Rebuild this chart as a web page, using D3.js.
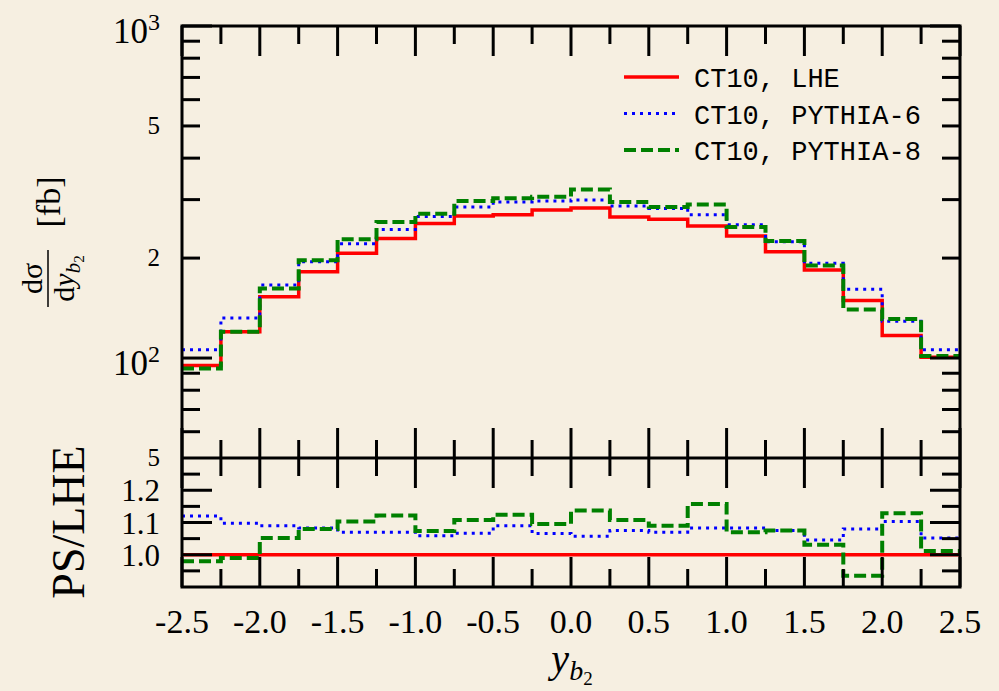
<html>
    <head>
        <title>b-jet rapidity</title>
        <script src="https://d3js.org/d3.v7.min.js"></script>
        <style>
            body {
                margin: 0;
                background: #f6efe1;
            }
            svg {
                display: block;
                font-family: "Liberation Serif", serif;
            }
            .legend-text {
                font-family: "Liberation Mono", monospace;
                font-size: 27px;
            }
        </style>
    </head>
    <body>
        <svg id="chart" width="999" height="691"></svg>
        <script>
            // bin edges in y_b2
            var binEdges = [-2.5, -2.25, -2.0, -1.75, -1.5, -1.25, -1.0, -0.75, -0.5, -0.25, 0.0,
                            0.25, 0.5, 0.75, 1.0, 1.25, 1.5, 1.75, 2.0, 2.25, 2.5];

            // d sigma / d y_b2 [fb], one value per bin
            var lheValues = [95, 120, 153, 182, 207, 229, 254, 268, 270, 279,
                             283, 266, 262, 250, 233, 209, 184, 149, 117, 100.5];
            var py6Values = [106, 132, 166, 195, 221, 244, 267, 285, 295, 297,
                             299, 287, 282, 270, 252, 224, 193, 161, 129, 106];
            var py8Values = [93, 120, 162, 197, 228, 257, 272, 297, 303, 306,
                             322, 295, 285, 290, 248, 225, 190, 140, 131, 101.5];

            // PS / LHE ratio, one value per bin
            var ratioLhe = [1, 1, 1, 1, 1, 1, 1, 1, 1, 1,
                            1, 1, 1, 1, 1, 1, 1, 1, 1, 1];
            var ratioPy6 = [1.12, 1.098, 1.09, 1.083, 1.07, 1.07, 1.059, 1.067, 1.09, 1.066,
                            1.057, 1.075, 1.07, 1.083, 1.083, 1.075, 1.046, 1.08, 1.103, 1.052];
            var ratioPy8 = [0.98, 0.99, 1.052, 1.08, 1.103, 1.122, 1.074, 1.108, 1.124, 1.095,
                            1.137, 1.108, 1.09, 1.157, 1.07, 1.075, 1.031, 0.935, 1.129, 1.012];

            var seriesNames = ["CT10, LHE", "CT10, PYTHIA-6", "CT10, PYTHIA-8"];

            var xMajorTicks = [-2.5, -2.0, -1.5, -1.0, -0.5, 0.0, 0.5, 1.0, 1.5, 2.0, 2.5];
            var xMinorTicks = [-2.25, -1.75, -1.25, -0.75, -0.25, 0.25, 0.75, 1.25, 1.75, 2.25];
            var xTickLabels = ["-2.5", "-2.0", "-1.5", "-1.0", "-0.5", "0.0", "0.5", "1.0", "1.5", "2.0", "2.5"];

            var topMajorTicks = [100, 1000];
            var topMinorTicks = [60, 70, 80, 90, 200, 300, 400, 500, 600, 700, 800, 900];
            var topLabelValues = [1000, 500, 200, 100, 50];
            var topLabelText = ["10", "5", "2", "10", "5"];
            var topLabelExp = ["3", "", "", "2", ""];

            var ratioMajorTicks = [1.0, 1.1, 1.2];
            var ratioMinorTicks = [0.95, 1.05, 1.15, 1.25];
            var ratioTickLabels = ["1.0", "1.1", "1.2"];

            var colors = ["#ff0000", "#0000ff", "#008000"];
            var dashes = [null, "3,5", "12,5"];
            var widths = [3.5, 3, 4];

            var svg = d3.select("#chart");

            var x = d3.scaleLinear().domain([-2.5, 2.5]).range([182, 960]);
            var yTop = d3.scaleLog().domain([50, 1000]).range([458, 26]);
            var yRat = d3.scaleLinear().domain([0.9, 1.3]).range([587, 458]);

            var MAJOR = 30, MINOR = 18;

            function stepLine(yScale) {
                return d3.line()
                    .x(function (d) { return x(d[0]); })
                    .y(function (d) { return yScale(d[1]); })
                    .curve(d3.curveStepAfter);
            }
            function toPoints(vals) {
                var pts = vals.map(function (v, i) { return [binEdges[i], v]; });
                pts.push([binEdges[binEdges.length - 1], vals[vals.length - 1]]);
                return pts;
            }

            // histograms
            var topLine = stepLine(yTop);
            var ratLine = stepLine(yRat);
            [lheValues, py6Values, py8Values].forEach(function (vals, i) {
                svg.append("path")
                    .attr("d", topLine(toPoints(vals)))
                    .attr("fill", "none")
                    .attr("stroke", colors[i])
                    .attr("stroke-width", widths[i])
                    .attr("stroke-dasharray", dashes[i]);
            });
            [ratioLhe, ratioPy6, ratioPy8].forEach(function (vals, i) {
                svg.append("path")
                    .attr("d", ratLine(toPoints(vals)))
                    .attr("fill", "none")
                    .attr("stroke", colors[i])
                    .attr("stroke-width", widths[i])
                    .attr("stroke-dasharray", dashes[i]);
            });

            // ticks
            var ticks = svg.append("g").attr("stroke", "#000").attr("stroke-width", 3);
            function xTicks(vals, len) {
                vals.forEach(function (v) {
                    // top edge, pointing down
                    ticks.append("line").attr("x1", x(v)).attr("x2", x(v)).attr("y1", 26).attr("y2", 26 + len);
                    // divider, both ways
                    ticks.append("line").attr("x1", x(v)).attr("x2", x(v)).attr("y1", 458 - len).attr("y2", 458 + len);
                    // bottom edge, pointing up
                    ticks.append("line").attr("x1", x(v)).attr("x2", x(v)).attr("y1", 587).attr("y2", 587 - len);
                });
            }
            xTicks(xMajorTicks, MAJOR);
            xTicks(xMinorTicks, MINOR);

            function yTicks(vals, scale, len) {
                vals.forEach(function (v) {
                    ticks.append("line").attr("x1", 182).attr("x2", 182 + len).attr("y1", scale(v)).attr("y2", scale(v));
                    ticks.append("line").attr("x1", 960).attr("x2", 960 - len).attr("y1", scale(v)).attr("y2", scale(v));
                });
            }
            yTicks(topMajorTicks, yTop, MAJOR);
            yTicks(topMinorTicks, yTop, MINOR);
            yTicks(ratioMajorTicks, yRat, MAJOR);
            yTicks(ratioMinorTicks, yRat, MINOR);

            // frame
            svg.append("rect")
                .attr("x", 182).attr("y", 26)
                .attr("width", 778).attr("height", 561)
                .attr("fill", "none")
                .attr("stroke", "#000")
                .attr("stroke-width", 3);
            svg.append("line")
                .attr("x1", 182).attr("x2", 960)
                .attr("y1", 458).attr("y2", 458)
                .attr("stroke", "#000")
                .attr("stroke-width", 3);

            // x tick labels
            svg.append("g").selectAll("text")
                .data(xMajorTicks)
                .enter()
                .append("text")
                .attr("x", d => x(d))
                .attr("y", 633)
                .attr("text-anchor", "middle")
                .attr("font-size", 34)
                .text((d, i) => xTickLabels[i]);

            // top panel y labels
            var topLab = svg.append("g").selectAll("text")
                .data(topLabelValues)
                .enter()
                .append("text")
                .attr("x", 160)
                .attr("y", (d, i) => yTop(d) + (topLabelExp[i] ? 17 : 8))
                .attr("text-anchor", "end")
                .attr("font-size", (d, i) => topLabelExp[i] ? 35 : 25);
            topLab.append("tspan").text((d, i) => topLabelText[i]);
            topLab.append("tspan")
                .attr("dy", -13)
                .attr("font-size", 24)
                .text((d, i) => topLabelExp[i]);

            // ratio y labels
            svg.append("g").selectAll("text")
                .data(ratioMajorTicks)
                .enter()
                .append("text")
                .attr("x", 160)
                .attr("y", d => yRat(d) + 11)
                .attr("text-anchor", "end")
                .attr("font-size", 31)
                .text((d, i) => ratioTickLabels[i]);

            // y axis title, top panel
            var ylab = svg.append("g").attr("transform", "translate(48,243) rotate(-90)");
            ylab.append("line")
                .attr("x1", -64).attr("x2", -7)
                .attr("y1", 0).attr("y2", 0)
                .attr("stroke", "#000").attr("stroke-width", 1.5);
            ylab.append("text")
                .attr("x", -35.5).attr("y", -6)
                .attr("text-anchor", "middle")
                .attr("font-size", 30)
                .text("dσ");
            var den = ylab.append("text")
                .attr("x", -35.5).attr("y", 26)
                .attr("text-anchor", "middle")
                .attr("font-size", 30);
            den.append("tspan").text("d");
            den.append("tspan").attr("font-style", "italic").text("y");
            den.append("tspan").attr("font-style", "italic").attr("font-size", 21).attr("dy", 6).text("b");
            den.append("tspan").attr("font-size", 15).attr("dy", 4).text("2");
            ylab.append("text")
                .attr("x", 41).attr("y", 12)
                .attr("text-anchor", "middle")
                .attr("font-size", 34)
                .text("[fb]");

            // y axis title, ratio panel
            svg.append("text")
                .attr("transform", "translate(84,522) rotate(-90)")
                .attr("text-anchor", "middle")
                .attr("font-size", 46)
                .text("PS/LHE");

            // x axis title
            var xlab = svg.append("text")
                .attr("x", 572).attr("y", 672)
                .attr("text-anchor", "middle")
                .attr("font-size", 40);
            xlab.append("tspan").attr("font-style", "italic").text("y");
            xlab.append("tspan").attr("font-style", "italic").attr("font-size", 28).attr("dy", 8).text("b");
            xlab.append("tspan").attr("font-size", 19).attr("dy", 5).text("2");

            // legend
            var legend = svg.append("g")
                .selectAll("g")
                .data(seriesNames)
                .enter()
                .append("g")
                .attr("transform", (d, i) => "translate(624," + (77 + i * 36.5) + ")");
            legend.append("line")
                .attr("x1", 0).attr("x2", 55)
                .attr("y1", 0).attr("y2", 0)
                .attr("stroke", (d, i) => colors[i])
                .attr("stroke-width", (d, i) => widths[i])
                .attr("stroke-dasharray", (d, i) => dashes[i]);
            legend.append("text")
                .attr("class", "legend-text")
                .attr("x", 70)
                .attr("y", 10)
                .text(d => d);
        </script>
    </body>
</html>
